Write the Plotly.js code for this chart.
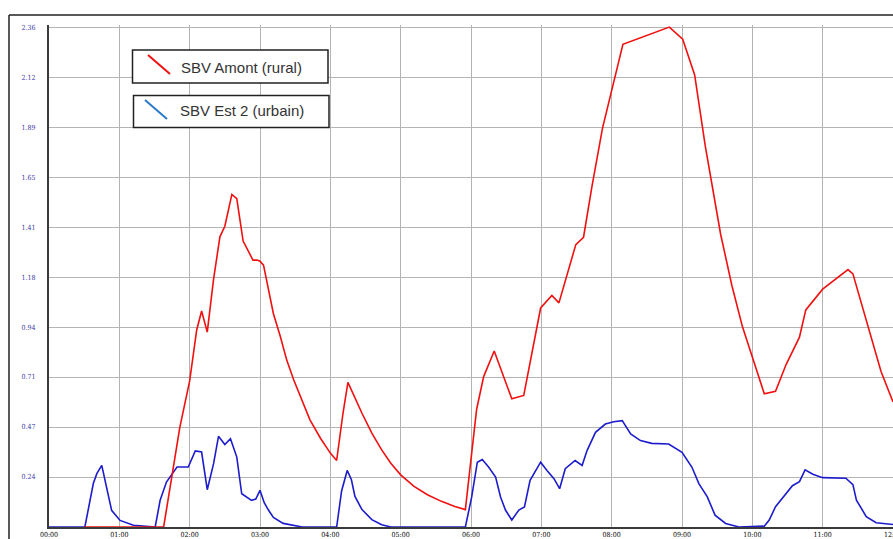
<!DOCTYPE html>
<html>
<head>
<meta charset="utf-8">
<script src="https://cdn.plot.ly/plotly-3.0.1.min.js"></script>
<style>html,body{margin:0;padding:0;background:#fff;}#chart{width:893px;height:539px;}</style>
</head>
<body>
<div id="chart"></div>
<script>
// Time in hours from 00:00
const tickHours = [0,1,2,3,4,5,6,7,8,9,10,11,12];
const tickLabels = ["00:00","01:00","02:00","03:00","04:00","05:00","06:00","07:00","08:00","09:00","10:00","11:00","12:00"];
const yTickVals = [0,0.236,0.472,0.708,0.944,1.18,1.416,1.652,1.888,2.124,2.36];
const yTickLabels = ["","0.24","0.47","0.71","0.94","1.18","1.41","1.65","1.89","2.12","2.36"];

const seriesNames = ["SBV Amont (rural)", "SBV Est 2 (urbain)"];

const amontHours = [0.5,1.63,1.86,2.0,2.10,2.17,2.25,2.34,2.43,2.50,2.60,2.67,2.76,2.90,2.96,3.0,3.05,3.12,3.19,3.29,3.38,3.48,3.60,3.71,3.86,4.0,4.09,4.18,4.25,4.32,4.45,4.59,4.73,4.86,5.0,5.19,5.38,5.58,5.77,5.92,6.08,6.18,6.33,6.58,6.75,6.99,7.15,7.25,7.49,7.60,7.72,7.87,8.03,8.16,8.82,9.01,9.18,9.33,9.55,9.71,9.86,10.17,10.33,10.48,10.67,10.76,11.0,11.36,11.43,11.67,11.83,12.0];
const amontValues = [0,0,0.47,0.69,0.93,1.02,0.92,1.17,1.37,1.42,1.57,1.55,1.35,1.26,1.26,1.255,1.236,1.118,1.008,0.898,0.788,0.694,0.60,0.506,0.419,0.349,0.314,0.537,0.683,0.631,0.537,0.443,0.364,0.301,0.246,0.192,0.152,0.121,0.097,0.082,0.556,0.71,0.831,0.605,0.621,1.034,1.093,1.058,1.333,1.368,1.608,1.883,2.109,2.279,2.36,2.303,2.134,1.80,1.381,1.139,0.945,0.629,0.641,0.767,0.896,1.025,1.123,1.215,1.195,0.912,0.734,0.59];

const estHours = [0,0.51,0.63,0.68,0.75,0.82,0.89,1.01,1.20,1.51,1.58,1.67,1.82,1.98,2.08,2.17,2.25,2.34,2.41,2.50,2.58,2.67,2.74,2.88,2.94,3.0,3.06,3.12,3.19,3.33,3.52,3.6,4.09,4.16,4.24,4.30,4.35,4.45,4.59,4.73,4.86,5.92,6.01,6.09,6.16,6.25,6.35,6.42,6.49,6.58,6.68,6.76,6.84,6.99,7.08,7.18,7.26,7.34,7.48,7.58,7.65,7.77,7.91,8.03,8.15,8.27,8.41,8.57,8.81,9.0,9.14,9.24,9.36,9.47,9.62,9.81,10.17,10.24,10.33,10.48,10.57,10.67,10.75,10.86,11.0,11.33,11.43,11.48,11.62,11.76,12.0];
const estValues = [0,0,0.205,0.252,0.291,0.189,0.079,0.031,0.008,0,0.126,0.212,0.283,0.283,0.359,0.354,0.176,0.299,0.428,0.389,0.417,0.33,0.157,0.126,0.132,0.173,0.115,0.08,0.045,0.017,0.004,0,0,0.17,0.267,0.223,0.144,0.082,0.035,0.011,0,0,0.142,0.306,0.319,0.283,0.236,0.142,0.08,0.033,0.08,0.095,0.22,0.306,0.267,0.228,0.181,0.275,0.314,0.291,0.361,0.447,0.486,0.497,0.502,0.439,0.408,0.395,0.392,0.353,0.283,0.205,0.142,0.056,0.017,0,0.004,0.033,0.096,0.159,0.195,0.214,0.27,0.249,0.233,0.23,0.2,0.127,0.049,0.02,0.012];

const colors = ["#f01010", "#1c1ccc"];

const traces = [
  {x: estHours, y: estValues, name: seriesNames[1], type: "scatter", mode: "lines",
   line: {color: colors[1], width: 1.6}},
  {x: amontHours, y: amontValues, name: seriesNames[0], type: "scatter", mode: "lines",
   line: {color: colors[0], width: 1.6}}
];

// px -> paper helpers (plot area: x 49..893, y 25..527)
const L = 49, W = 844, H = 502;
const px = v => (v - L) / W;
const py = v => (527 - v) / H;

const shapes = [
  // outer frame
  {type: "line", xref: "paper", yref: "paper", x0: px(9), x1: px(900), y0: py(15), y1: py(15), line: {color: "#222", width: 1.5}},
  {type: "line", xref: "paper", yref: "paper", x0: px(9), x1: px(9), y0: py(15), y1: py(545), line: {color: "#222", width: 1.5}},
  // legend boxes
  {type: "rect", xref: "paper", yref: "paper", layer: "above", x0: px(132.5), x1: px(328), y0: py(83), y1: py(50), fillcolor: "#fff", line: {color: "#222", width: 1.5}},
  {type: "rect", xref: "paper", yref: "paper", layer: "above", x0: px(133.5), x1: px(329), y0: py(127.5), y1: py(95.5), fillcolor: "#fff", line: {color: "#222", width: 1.5}},
  // legend symbols
  {type: "line", xref: "paper", yref: "paper", layer: "above", x0: px(148), x1: px(170), y0: py(55), y1: py(74), line: {color: colors[0], width: 2}},
  {type: "line", xref: "paper", yref: "paper", layer: "above", x0: px(145), x1: px(167), y0: py(100), y1: py(119), line: {color: "#2a7ac8", width: 2}}
];

const annotations = [
  {xref: "paper", yref: "paper", x: px(179), y: py(67), xanchor: "left", yanchor: "middle", showarrow: false,
   text: seriesNames[0], font: {family: "Liberation Sans, Arial, sans-serif", size: 15, color: "#333"}},
  {xref: "paper", yref: "paper", x: px(178), y: py(111), xanchor: "left", yanchor: "middle", showarrow: false,
   text: seriesNames[1], font: {family: "Liberation Sans, Arial, sans-serif", size: 15, color: "#333"}}
];

const layout = {
  width: 893, height: 539,
  margin: {l: 49, r: 0, t: 25, b: 12, pad: 0},
  paper_bgcolor: "#fff", plot_bgcolor: "#fff",
  showlegend: false,
  xaxis: {
    range: [0, 12], tickmode: "array", tickvals: tickHours, ticktext: tickLabels,
    showgrid: true, gridcolor: "#b4b4b4", gridwidth: 1, zeroline: false,
    showline: true, linecolor: "#3a3a3a", linewidth: 1.5, ticks: "",
    ticklabeloverflow: "allow",
    tickfont: {family: "DejaVu Serif Condensed, Liberation Serif, serif", size: 7, color: "#000"},
    fixedrange: true
  },
  yaxis: {
    range: [0, 2.37], tickmode: "array", tickvals: yTickVals, ticktext: yTickLabels,
    showgrid: true, gridcolor: "#b4b4b4", gridwidth: 1, zeroline: false,
    showline: true, linecolor: "#3a3a3a", linewidth: 2, ticks: "",
    ticklabelstandoff: 10,
    tickfont: {family: "DejaVu Serif Condensed, Liberation Serif, serif", size: 7, color: "#3a3aa8"},
    fixedrange: true
  },
  shapes: shapes,
  annotations: annotations
};

Plotly.newPlot("chart", traces, layout, {displayModeBar: false, staticPlot: true});
</script>
</body>
</html>
